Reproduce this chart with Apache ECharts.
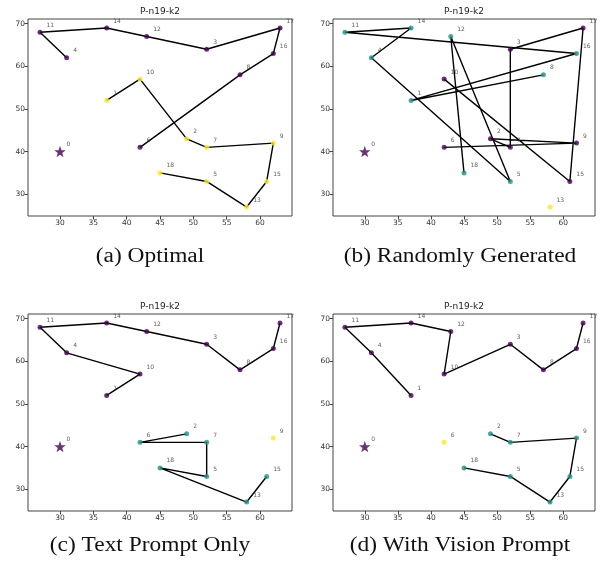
<!DOCTYPE html>
<html>
<head>
<meta charset="utf-8">
<script src="https://cdn.jsdelivr.net/npm/echarts@6/dist/echarts.min.js"></script>
<style>
html,body{margin:0;padding:0;background:#fff;}
#chart{width:605px;height:565px;}
</style>
</head>
<body>
<div id="chart"></div>
<script>
// Node coordinates (node 0 = depot)
const nodeX = [30,37,49,52,31,52,42,52,57,62,42,27,43,58,37,61,62,63,45];
const nodeY = [40,52,43,64,62,33,41,41,58,42,57,68,67,27,69,33,63,69,35];

// Routes per panel (node indices in visiting order)
const routesA = [[4,11,14,12,3,17,16,8,6],[1,10,2,7,9,15,13,5,18]];
const routesB = [[10,15,17,3,7,2,9,6],[8,1,16,11,14,4,5,12,18],[13]];
const routesC = [[1,10,4,11,14,12,3,8,16,17],[2,6,7,5,18,13,15],[9]];
const routesD = [[1,4,11,14,12,10,3,8,16,17],[2,7,9,15,13,5,18],[6]];

const panelTitles = ['P-n19-k2','P-n19-k2','P-n19-k2','P-n19-k2'];
const captions = ['(a) Optimal','(b) Randomly Generated','(c) Text Prompt Only','(d) With Vision Prompt'];
const xTicks = [30,35,40,45,50,55,60];
const yTicks = [30,40,50,60,70];

const panels = [routesA, routesB, routesC, routesD];
const routeColors2 = ['#440154','#fde725'];
const routeColors3 = ['#440154','#21918c','#fde725'];

const gridPos = [
  {left:28, top:19, width:264, height:197},
  {left:333, top:19, width:262, height:197},
  {left:28, top:314, width:264, height:197},
  {left:333, top:314, width:262, height:197}
];

const grids = [], xAxes = [], yAxes = [], series = [], graphics = [];
const starPath = 'path://M50,0 L61.8,35.4 L98.1,35.4 L68.8,57.3 L79.4,92.7 L50,71 L20.6,92.7 L31.2,57.3 L1.9,35.4 L38.2,35.4 Z';

panels.forEach((routes, p) => {
  const g = gridPos[p];
  grids.push({left:g.left, top:g.top, width:g.width, height:g.height, show:true,
    borderColor:'#444', borderWidth:1, backgroundColor:'transparent'});
  xAxes.push({type:'value', gridIndex:p, min:25.2, max:64.8,
    axisLine:{show:false}, splitLine:{show:false},
    axisTick:{show:true, inside:false, length:3.5, lineStyle:{color:'#444'}, customValues:xTicks},
    axisLabel:{fontSize:7.5, color:'#333', margin:3, fontFamily:'DejaVu Sans', customValues:xTicks}});
  yAxes.push({type:'value', gridIndex:p, min:24.9, max:71.1,
    axisLine:{show:false}, splitLine:{show:false},
    axisTick:{show:true, inside:false, length:3.5, lineStyle:{color:'#444'}, customValues:yTicks},
    axisLabel:{fontSize:7.5, color:'#333', margin:3, fontFamily:'DejaVu Sans', customValues:yTicks}});
  const colors = routes.length === 2 ? routeColors2 : routeColors3;
  routes.forEach((r, ri) => {
    const pts = r.map(i => [nodeX[i], nodeY[i]]);
    if (r.length > 1) {
      series.push({type:'line', xAxisIndex:p, yAxisIndex:p, data:pts, showSymbol:false,
        symbol:'none', lineStyle:{color:'#000', width:1.4}, z:2, silent:true, animation:false});
    }
    series.push({type:'scatter', xAxisIndex:p, yAxisIndex:p, data:pts, symbolSize:5,
      itemStyle:{color:colors[ri]}, z:3, animation:false});
  });
  // depot
  series.push({type:'scatter', xAxisIndex:p, yAxisIndex:p, data:[[nodeX[0], nodeY[0]]],
    symbol:starPath, symbolSize:11.5, itemStyle:{color:'#440154'}, z:3, animation:false});
  // node labels
  series.push({type:'scatter', xAxisIndex:p, yAxisIndex:p,
    data:nodeX.map((x, i) => [x, nodeY[i], i]), symbolSize:0, z:4, animation:false,
    label:{show:true, position:'right', distance:6.5, offset:[0,-7],
      formatter:(d) => String(d.value[2]), fontSize:6, color:'#333', fontFamily:'DejaVu Sans'}});
  graphics.push({type:'text', x:g.left + g.width/2, y:g.top - 7,
    style:{text:panelTitles[p], fontSize:9, fontFamily:'DejaVu Sans', fill:'#222',
      textAlign:'center', textVerticalAlign:'middle'}});
});

const capPos = [[150,257],[460,257],[150,546],[460,546]];
captions.forEach((c, i) => {
  graphics.push({type:'text', x:capPos[i][0], y:capPos[i][1], scaleX:1.17,
    style:{text:c, fontSize:20, fontFamily:'Liberation Serif', fill:'#111',
      textAlign:'center', textVerticalAlign:'middle'}});
});

const chart = echarts.init(document.getElementById('chart'), null, {renderer:'canvas'});
chart.setOption({
  animation:false,
  grid:grids, xAxis:xAxes, yAxis:yAxes, series:series,
  graphic:graphics
});
</script>
</body>
</html>
